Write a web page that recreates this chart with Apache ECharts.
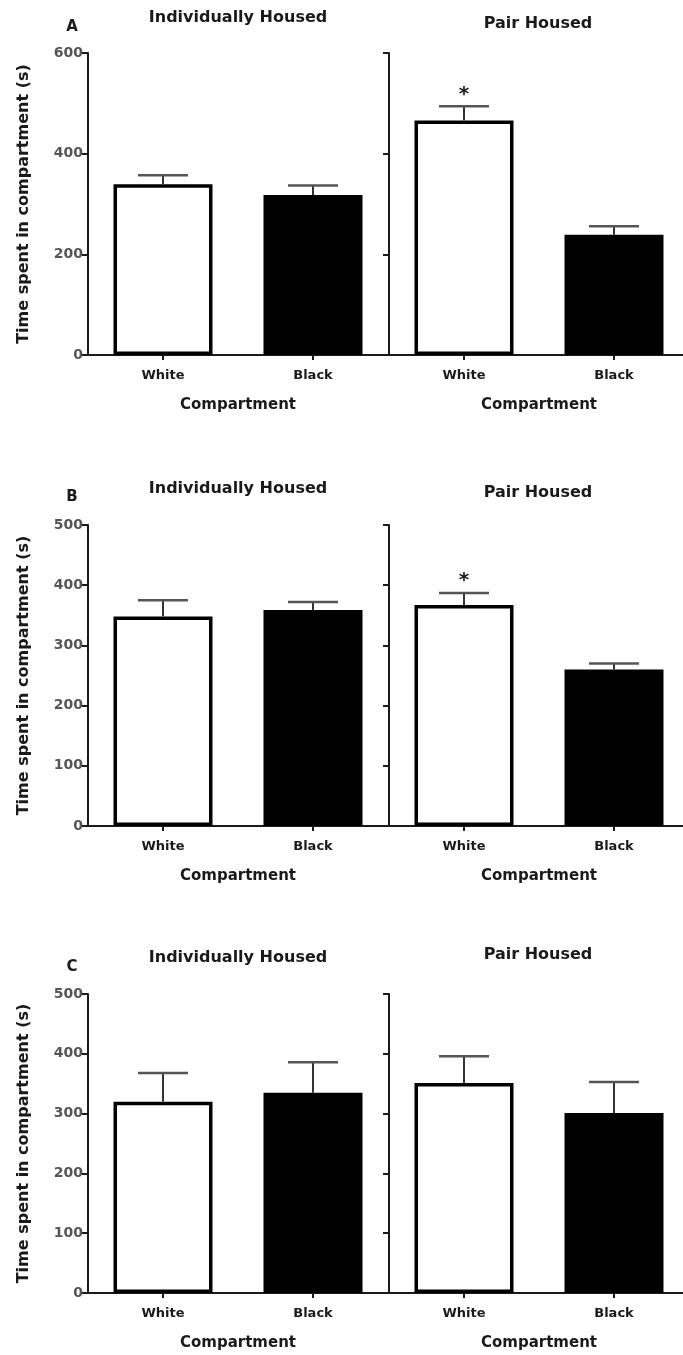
<!DOCTYPE html>
<html>
<head>
<meta charset="utf-8">
<script src="https://cdn.jsdelivr.net/npm/echarts@6/dist/echarts.min.js"></script>
<style>
html,body{margin:0;padding:0;background:#fff;}
#chart{width:683px;height:1355px;}
</style>
</head>
<body>
<div id="chart"></div>
<script>
// ---- data ----
const categories = ['White', 'Black'];
const groupTitles = ['Individually Housed', 'Pair Housed'];
const panelLetters = ['A', 'B', 'C'];
const xAxisTitle = 'Compartment';
const yAxisTitle = 'Time spent in compartment (s)';

const A_individual_mean = [339, 318];
const A_individual_sem  = [18, 19];
const A_pair_mean       = [466, 239];
const A_pair_sem        = [28, 17];
const A_pair_sig        = ['*', ''];

const B_individual_mean = [348, 359];
const B_individual_sem  = [27, 13];
const B_pair_mean       = [367, 260];
const B_pair_sem        = [20, 10];
const B_pair_sig        = ['*', ''];

const C_individual_mean = [320, 335];
const C_individual_sem  = [48, 51];
const C_pair_mean       = [351, 301];
const C_pair_sem        = [45, 52];
const C_pair_sig        = ['', ''];

const A_yTicks = [0, 200, 400, 600];
const B_yTicks = [0, 100, 200, 300, 400, 500];
const C_yTicks = [0, 100, 200, 300, 400, 500];
const empty_sig = ['', ''];

// ---- layout ----
const FONT = '"DejaVu Sans", "Liberation Sans", Arial, sans-serif';
const INK = '#1a1a1a';
const panelLayout = [
  { top: 53,  height: 302, titleY: [18, 24],   letterY: 27 },
  { top: 525, height: 301, titleY: [489, 493], letterY: 497 },
  { top: 994, height: 299, titleY: [958, 955], letterY: 967 }
];
const colLeft = [88, 389];
const colWidth = 300;
const titleX = [238, 538];

const panels = [
  { ticks: A_yTicks, groups: [[A_individual_mean, A_individual_sem, empty_sig], [A_pair_mean, A_pair_sem, A_pair_sig]] },
  { ticks: B_yTicks, groups: [[B_individual_mean, B_individual_sem, empty_sig], [B_pair_mean, B_pair_sem, B_pair_sig]] },
  { ticks: C_yTicks, groups: [[C_individual_mean, C_individual_sem, empty_sig], [C_pair_mean, C_pair_sem, C_pair_sig]] }
];

const grid = [], xAxis = [], yAxis = [], series = [], graphic = [];

panels.forEach((panel, p) => {
  const lay = panelLayout[p];
  const yMax = panel.ticks[panel.ticks.length - 1];
  const yInt = panel.ticks[1] - panel.ticks[0];

  graphic.push({
    type: 'text', x: 72, y: lay.letterY,
    style: { text: panelLetters[p], font: 'bold 15px ' + FONT, fill: INK, textAlign: 'center', textVerticalAlign: 'middle' }
  });

  panel.groups.forEach((g, c) => {
    const idx = grid.length;
    const mean = g[0], sem = g[1], sig = g[2];
    grid.push({ left: colLeft[c], width: colWidth, top: lay.top, height: lay.height,
                containLabel: false, outerBoundsMode: 'none' });

    graphic.push({
      type: 'text', x: titleX[c], y: lay.titleY[c],
      style: { text: groupTitles[c], font: 'bold 16px ' + FONT, fill: INK, textAlign: 'center', textVerticalAlign: 'middle' }
    });

    xAxis.push({
      type: 'category', gridIndex: idx, data: categories, boundaryGap: true,
      axisLine: { show: true, lineStyle: { color: INK, width: 2 } },
      axisTick: { show: true, alignWithLabel: true, length: 5, lineStyle: { color: INK, width: 2 } },
      axisLabel: { color: INK, fontFamily: FONT, fontWeight: 'bold', fontSize: 13, margin: 14 },
      name: xAxisTitle, nameLocation: 'middle', nameGap: 43,
      nameTextStyle: { color: INK, fontFamily: FONT, fontWeight: 'bold', fontSize: 15 }
    });

    yAxis.push({
      type: 'value', gridIndex: idx, min: 0, max: yMax, interval: yInt,
      splitLine: { show: false },
      axisLine: { show: true, lineStyle: { color: INK, width: 2 } },
      axisTick: { show: true, inside: false, length: 6, lineStyle: { color: INK, width: 2 } },
      axisLabel: { show: c === 0, color: '#555', fontFamily: FONT, fontWeight: 'bold', fontSize: 14, margin: 5 },
      name: c === 0 ? yAxisTitle : '', nameLocation: 'middle', nameGap: 56, nameRotate: 90,
      nameTextStyle: { color: INK, fontFamily: FONT, fontWeight: 'bold', fontSize: 16 }
    });

    series.push({
      type: 'bar', xAxisIndex: idx, yAxisIndex: idx, barWidth: 99,
      data: mean.map((v, i) => ({
        value: v,
        itemStyle: i === 0
          ? { color: '#ffffff', borderColor: '#000000', borderWidth: 3.5 }
          : { color: '#000000', borderColor: '#000000', borderWidth: 0 }
      })),
      silent: true, animation: false
    });

    series.push({
      type: 'custom', xAxisIndex: idx, yAxisIndex: idx, z: 5,
      data: mean.map((v, i) => [i, v, v + sem[i]]),
      renderItem: function (params, api) {
        const i = api.value(0);
        const p0 = api.coord([i, api.value(1)]);
        const p1 = api.coord([i, api.value(2)]);
        const half = 25;
        const children = [
          { type: 'line', shape: { x1: p0[0], y1: p0[1], x2: p1[0], y2: p1[1] }, style: { stroke: '#333', lineWidth: 2 } },
          { type: 'line', shape: { x1: p1[0] - half, y1: p1[1], x2: p1[0] + half, y2: p1[1] }, style: { stroke: '#555', lineWidth: 2.5 } }
        ];
        const s = sig[params.dataIndex];
        if (s) {
          children.push({ type: 'text', x: p1[0], y: p1[1] - 12,
            style: { text: s, font: 'bold 20px ' + FONT, fill: INK, textAlign: 'center', textVerticalAlign: 'middle' } });
        }
        return { type: 'group', children: children };
      },
      silent: true, animation: false
    });
  });
});

const chart = echarts.init(document.getElementById('chart'), null, { renderer: 'canvas' });
chart.setOption({
  backgroundColor: '#ffffff',
  animation: false,
  grid: grid, xAxis: xAxis, yAxis: yAxis, series: series, graphic: graphic
});
</script>
</body>
</html>
